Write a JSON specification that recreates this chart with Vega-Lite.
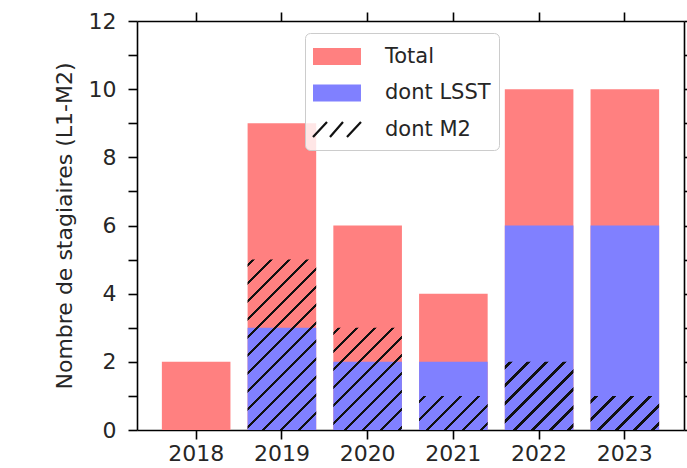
{
  "$schema": "https://vega.github.io/schema/vega-lite/v6.json",
  "width": 547,
  "height": 409,
  "autosize": {"type": "none"},
  "padding": {"left": 137, "top": 21, "right": 3, "bottom": 38},
  "background": "white",
  "config": {
    "view": {"stroke": null},
    "font": "DejaVu Sans",
    "axis": {
      "grid": false,
      "domainColor": "black",
      "domainWidth": 1.6,
      "tickColor": "black",
      "tickWidth": 1.6,
      "labelFont": "DejaVu Sans",
      "labelFontSize": 22,
      "labelColor": "#262626",
      "titleFont": "DejaVu Sans",
      "titleFontSize": 22,
      "titleFontWeight": "normal",
      "titleColor": "#262626",
      "zindex": 1
    }
  },
  "data": {
    "values": [
      {"year": 2018, "total": 2, "lsst": 0, "m2": 0},
      {"year": 2019, "total": 9, "lsst": 3, "m2": 5},
      {"year": 2020, "total": 6, "lsst": 2, "m2": 3},
      {"year": 2021, "total": 4, "lsst": 2, "m2": 1},
      {"year": 2022, "total": 10, "lsst": 6, "m2": 2},
      {"year": 2023, "total": 10, "lsst": 6, "m2": 1}
    ]
  },
  "resolve": {"axis": {"x": "independent", "y": "independent"}},
  "layer": [
    {
      "mark": {"type": "bar"},
      "encoding": {
        "x": {
          "field": "year", "type": "ordinal",
          "scale": {"type": "band", "paddingInner": 0.2, "paddingOuter": 0.29},
          "axis": {"orient": "bottom", "title": null, "labelAngle": 0, "tickSize": 9, "labelPadding": 4}
        },
        "y": {
          "field": "total", "type": "quantitative", "stack": null,
          "scale": {"domain": [0, 12], "nice": false, "zero": true},
          "axis": {
            "orient": "left",
            "title": "Nombre de stagiaires (L1-M2)",
            "values": [0, 1, 2, 3, 4, 5, 6, 7, 8, 9, 10, 11, 12],
            "labelExpr": "datum.value % 2 ? '' : datum.label",
            "tickSize": 9,
            "labelPadding": 12,
            "labelFlush": false,
            "labelOverlap": false,
            "labelBound": false,
            "titlePadding": 12,
            "encode": {"ticks": {"update": {"x2": {"signal": "datum.value % 2 ? -5 : -9"}}}}
          }
        },
        "color": {
          "datum": "Total",
          "scale": {"domain": ["Total", "dont LSST", "dont M2"], "range": ["#ff8080", "#8080ff", "rgba(0,0,0,0)"]},
          "legend": {
            "orient": "none",
            "legendX": 168,
            "legendY": 12,
            "title": null,
            "symbolSize": 784,
            "symbolStrokeWidth": 0,
            "labelFont": "DejaVu Sans",
            "labelFontSize": 21,
            "labelColor": "#262626",
            "labelOffset": 41,
            "rowPadding": 7.5,
            "padding": 8,
            "fillColor": "rgba(255,255,255,0.8)",
            "strokeColor": "#cccccc",
            "cornerRadius": 5,
            "encode": {
              "symbols": {
                "update": {
                  "shape": {"signal": "datum.value === 'dont M2' ? 'M-1.107,0.54L-0.107,-0.54M0.107,0.54L1.036,-0.54M1.32,0.54L2.32,-0.54' : 'M-1.107,-0.6L2.32,-0.6L2.32,0.6L-1.107,0.6Z'"},
                  "stroke": {"signal": "datum.value === 'dont M2' ? '#111111' : 'rgba(0,0,0,0)'"},
                  "strokeWidth": {"value": 2.2}
                }
              }
            }
          }
        }
      }
    },
    {
      "mark": {"type": "bar"},
      "encoding": {
        "x": {"field": "year", "type": "ordinal", "axis": {"orient": "top", "labels": false, "tickSize": 9, "title": null}},
        "y": {"field": "lsst", "type": "quantitative", "stack": null, "axis": {"orient": "right", "labels": false, "tickSize": 9, "title": null, "values": [0, 1, 2, 3, 4, 5, 6, 7, 8, 9, 10, 11, 12]}},
        "color": {"datum": "dont LSST"}
      }
    },
    {
      "transform": [{"filter": "datum.year == 2019"}],
      "mark": {
        "type": "bar",
        "fill": {
          "gradient": "linear", "x1": 0, "y1": 0, "x2": 0.4858, "y2": 1.207,
          "stops": [
            {"offset": 0.0180, "color": "rgba(0,0,0,0)"}, {"offset": 0.0180, "color": "#111111"}, {"offset": 0.0322, "color": "#111111"}, {"offset": 0.0322, "color": "rgba(0,0,0,0)"},
            {"offset": 0.0933, "color": "rgba(0,0,0,0)"}, {"offset": 0.0933, "color": "#111111"}, {"offset": 0.1075, "color": "#111111"}, {"offset": 0.1075, "color": "rgba(0,0,0,0)"},
            {"offset": 0.1686, "color": "rgba(0,0,0,0)"}, {"offset": 0.1686, "color": "#111111"}, {"offset": 0.1829, "color": "#111111"}, {"offset": 0.1829, "color": "rgba(0,0,0,0)"},
            {"offset": 0.2439, "color": "rgba(0,0,0,0)"}, {"offset": 0.2439, "color": "#111111"}, {"offset": 0.2582, "color": "#111111"}, {"offset": 0.2582, "color": "rgba(0,0,0,0)"},
            {"offset": 0.3192, "color": "rgba(0,0,0,0)"}, {"offset": 0.3192, "color": "#111111"}, {"offset": 0.3335, "color": "#111111"}, {"offset": 0.3335, "color": "rgba(0,0,0,0)"},
            {"offset": 0.3945, "color": "rgba(0,0,0,0)"}, {"offset": 0.3945, "color": "#111111"}, {"offset": 0.4088, "color": "#111111"}, {"offset": 0.4088, "color": "rgba(0,0,0,0)"},
            {"offset": 0.4698, "color": "rgba(0,0,0,0)"}, {"offset": 0.4698, "color": "#111111"}, {"offset": 0.4841, "color": "#111111"}, {"offset": 0.4841, "color": "rgba(0,0,0,0)"},
            {"offset": 0.5451, "color": "rgba(0,0,0,0)"}, {"offset": 0.5451, "color": "#111111"}, {"offset": 0.5594, "color": "#111111"}, {"offset": 0.5594, "color": "rgba(0,0,0,0)"},
            {"offset": 0.6205, "color": "rgba(0,0,0,0)"}, {"offset": 0.6205, "color": "#111111"}, {"offset": 0.6347, "color": "#111111"}, {"offset": 0.6347, "color": "rgba(0,0,0,0)"},
            {"offset": 0.6958, "color": "rgba(0,0,0,0)"}, {"offset": 0.6958, "color": "#111111"}, {"offset": 0.7100, "color": "#111111"}, {"offset": 0.7100, "color": "rgba(0,0,0,0)"},
            {"offset": 0.7711, "color": "rgba(0,0,0,0)"}, {"offset": 0.7711, "color": "#111111"}, {"offset": 0.7853, "color": "#111111"}, {"offset": 0.7853, "color": "rgba(0,0,0,0)"},
            {"offset": 0.8464, "color": "rgba(0,0,0,0)"}, {"offset": 0.8464, "color": "#111111"}, {"offset": 0.8607, "color": "#111111"}, {"offset": 0.8607, "color": "rgba(0,0,0,0)"},
            {"offset": 0.9217, "color": "rgba(0,0,0,0)"}, {"offset": 0.9217, "color": "#111111"}, {"offset": 0.9360, "color": "#111111"}, {"offset": 0.9360, "color": "rgba(0,0,0,0)"}
          ]
        }
      },
      "encoding": {
        "x": {"field": "year", "type": "ordinal", "axis": null},
        "y": {"field": "m2", "type": "quantitative", "stack": null, "axis": null}
      }
    },
    {
      "transform": [{"filter": "datum.year == 2020"}],
      "mark": {
        "type": "bar",
        "fill": {
          "gradient": "linear", "x1": 0, "y1": 0, "x2": 0.773, "y2": 1.1523,
          "stops": [
            {"offset": 0.0252, "color": "rgba(0,0,0,0)"}, {"offset": 0.0252, "color": "#111111"}, {"offset": 0.0450, "color": "#111111"}, {"offset": 0.0450, "color": "rgba(0,0,0,0)"},
            {"offset": 0.1306, "color": "rgba(0,0,0,0)"}, {"offset": 0.1306, "color": "#111111"}, {"offset": 0.1504, "color": "#111111"}, {"offset": 0.1504, "color": "rgba(0,0,0,0)"},
            {"offset": 0.2359, "color": "rgba(0,0,0,0)"}, {"offset": 0.2359, "color": "#111111"}, {"offset": 0.2558, "color": "#111111"}, {"offset": 0.2558, "color": "rgba(0,0,0,0)"},
            {"offset": 0.3413, "color": "rgba(0,0,0,0)"}, {"offset": 0.3413, "color": "#111111"}, {"offset": 0.3611, "color": "#111111"}, {"offset": 0.3611, "color": "rgba(0,0,0,0)"},
            {"offset": 0.4467, "color": "rgba(0,0,0,0)"}, {"offset": 0.4467, "color": "#111111"}, {"offset": 0.4665, "color": "#111111"}, {"offset": 0.4665, "color": "rgba(0,0,0,0)"},
            {"offset": 0.5520, "color": "rgba(0,0,0,0)"}, {"offset": 0.5520, "color": "#111111"}, {"offset": 0.5718, "color": "#111111"}, {"offset": 0.5718, "color": "rgba(0,0,0,0)"},
            {"offset": 0.6574, "color": "rgba(0,0,0,0)"}, {"offset": 0.6574, "color": "#111111"}, {"offset": 0.6772, "color": "#111111"}, {"offset": 0.6772, "color": "rgba(0,0,0,0)"},
            {"offset": 0.7627, "color": "rgba(0,0,0,0)"}, {"offset": 0.7627, "color": "#111111"}, {"offset": 0.7826, "color": "#111111"}, {"offset": 0.7826, "color": "rgba(0,0,0,0)"},
            {"offset": 0.8681, "color": "rgba(0,0,0,0)"}, {"offset": 0.8681, "color": "#111111"}, {"offset": 0.8879, "color": "#111111"}, {"offset": 0.8879, "color": "rgba(0,0,0,0)"},
            {"offset": 0.9735, "color": "rgba(0,0,0,0)"}, {"offset": 0.9735, "color": "#111111"}, {"offset": 0.9933, "color": "#111111"}, {"offset": 0.9933, "color": "rgba(0,0,0,0)"}
          ]
        }
      },
      "encoding": {
        "x": {"field": "year", "type": "ordinal", "axis": null},
        "y": {"field": "m2", "type": "quantitative", "stack": null, "axis": null}
      }
    },
    {
      "transform": [{"filter": "datum.year == 2022"}],
      "mark": {
        "type": "bar",
        "fill": {
          "gradient": "linear", "x1": 0, "y1": 0, "x2": 1.0031, "y2": 0.997,
          "stops": [
            {"offset": 0.0315, "color": "rgba(0,0,0,0)"}, {"offset": 0.0315, "color": "#111111"}, {"offset": 0.0563, "color": "#111111"}, {"offset": 0.0563, "color": "rgba(0,0,0,0)"},
            {"offset": 0.1631, "color": "rgba(0,0,0,0)"}, {"offset": 0.1631, "color": "#111111"}, {"offset": 0.1879, "color": "#111111"}, {"offset": 0.1879, "color": "rgba(0,0,0,0)"},
            {"offset": 0.2947, "color": "rgba(0,0,0,0)"}, {"offset": 0.2947, "color": "#111111"}, {"offset": 0.3195, "color": "#111111"}, {"offset": 0.3195, "color": "rgba(0,0,0,0)"},
            {"offset": 0.4263, "color": "rgba(0,0,0,0)"}, {"offset": 0.4263, "color": "#111111"}, {"offset": 0.4511, "color": "#111111"}, {"offset": 0.4511, "color": "rgba(0,0,0,0)"},
            {"offset": 0.5579, "color": "rgba(0,0,0,0)"}, {"offset": 0.5579, "color": "#111111"}, {"offset": 0.5827, "color": "#111111"}, {"offset": 0.5827, "color": "rgba(0,0,0,0)"},
            {"offset": 0.6896, "color": "rgba(0,0,0,0)"}, {"offset": 0.6896, "color": "#111111"}, {"offset": 0.7144, "color": "#111111"}, {"offset": 0.7144, "color": "rgba(0,0,0,0)"},
            {"offset": 0.8212, "color": "rgba(0,0,0,0)"}, {"offset": 0.8212, "color": "#111111"}, {"offset": 0.8460, "color": "#111111"}, {"offset": 0.8460, "color": "rgba(0,0,0,0)"},
            {"offset": 0.9528, "color": "rgba(0,0,0,0)"}, {"offset": 0.9528, "color": "#111111"}, {"offset": 0.9776, "color": "#111111"}, {"offset": 0.9776, "color": "rgba(0,0,0,0)"}
          ]
        }
      },
      "encoding": {
        "x": {"field": "year", "type": "ordinal", "axis": null},
        "y": {"field": "m2", "type": "quantitative", "stack": null, "axis": null}
      }
    },
    {
      "transform": [{"filter": "datum.year == 2021 || datum.year == 2023"}],
      "mark": {
        "type": "bar",
        "fill": {
          "gradient": "linear", "x1": 0, "y1": 0, "x2": 1.2005, "y2": 0.5965,
          "stops": [
            {"offset": 0.0419, "color": "rgba(0,0,0,0)"}, {"offset": 0.0419, "color": "#111111"}, {"offset": 0.0750, "color": "#111111"}, {"offset": 0.0750, "color": "rgba(0,0,0,0)"},
            {"offset": 0.2172, "color": "rgba(0,0,0,0)"}, {"offset": 0.2172, "color": "#111111"}, {"offset": 0.2503, "color": "#111111"}, {"offset": 0.2503, "color": "rgba(0,0,0,0)"},
            {"offset": 0.3925, "color": "rgba(0,0,0,0)"}, {"offset": 0.3925, "color": "#111111"}, {"offset": 0.4256, "color": "#111111"}, {"offset": 0.4256, "color": "rgba(0,0,0,0)"},
            {"offset": 0.5678, "color": "rgba(0,0,0,0)"}, {"offset": 0.5678, "color": "#111111"}, {"offset": 0.6010, "color": "#111111"}, {"offset": 0.6010, "color": "rgba(0,0,0,0)"},
            {"offset": 0.7432, "color": "rgba(0,0,0,0)"}, {"offset": 0.7432, "color": "#111111"}, {"offset": 0.7763, "color": "#111111"}, {"offset": 0.7763, "color": "rgba(0,0,0,0)"},
            {"offset": 0.9185, "color": "rgba(0,0,0,0)"}, {"offset": 0.9185, "color": "#111111"}, {"offset": 0.9516, "color": "#111111"}, {"offset": 0.9516, "color": "rgba(0,0,0,0)"}
          ]
        }
      },
      "encoding": {
        "x": {"field": "year", "type": "ordinal", "axis": null},
        "y": {"field": "m2", "type": "quantitative", "stack": null, "axis": null}
      }
    }
  ]
}
